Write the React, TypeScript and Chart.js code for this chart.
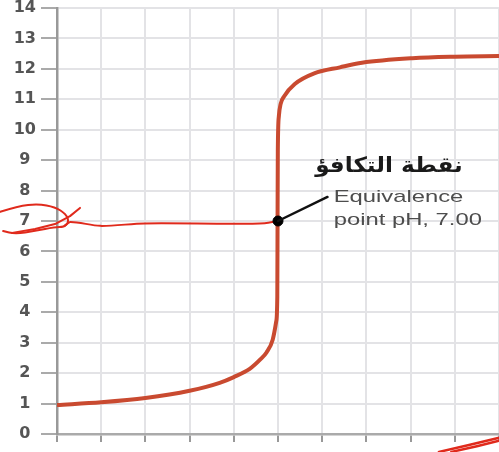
import React, { useEffect, useRef } from "react";
import { Chart, registerables } from "chart.js";

Chart.register(...registerables);

// Titration curve (volume of titrant vs pH)
const volume = [0, 5, 10, 15, 18.4, 20, 21.8, 23, 23.7, 24.4, 24.8, 24.92, 24.95, 24.98, 25.1, 25.3, 25.7, 26.9, 29.1, 32, 34.5, 40.2, 45, 50];
const pH = [0.95, 1.04, 1.18, 1.42, 1.68, 1.87, 2.14, 2.45, 2.68, 3.1, 3.7, 4.5, 7, 9.3, 10.45, 10.85, 11.1, 11.5, 11.85, 12.05, 12.2, 12.35, 12.4, 12.42];

// Equivalence point
const eqX = [25];
const eqY = [7];

// Hand-drawn red marking along pH 7
const handX = [0.8, 1.5, 4.9, 9.9, 19.9, 23.5, 25];
const handY = [6.82, 6.97, 6.84, 6.92, 6.91, 6.93, 7.0];
const loopAX = [-6.43, -4.4, -2.14, -0.23, 1.02, 1.35, 0.79, -0.23, -2.48, -4.74, -6.09];
const loopAY = [7.3, 7.49, 7.56, 7.46, 7.23, 6.97, 6.8, 6.8, 6.67, 6.57, 6.67];
const loopBX = [-5.08, -2.48, -0.23, 1.47, 2.6];
const loopBY = [6.61, 6.74, 6.9, 7.16, 7.43];
const scribAX = [43.2, 46.6, 49.9];
const scribAY = [-0.59, -0.36, -0.13];
const scribBX = [44.6, 47.5, 50];
const scribBY = [-0.59, -0.4, -0.22];

const yTicks = [0, 1, 2, 3, 4, 5, 6, 7, 8, 9, 10, 11, 12, 13, 14];
const labelArabic = "نقطة التكافؤ";
const labelLine1 = "Equivalence";
const labelLine2 = "point pH, 7.00";

const annotPlugin = {
  id: "annot",
  afterDatasetsDraw(chart: any) {
    const { ctx, scales } = chart;
    const xs = scales.x;
    const ys = scales.y;
    const path = (X: number[], Y: number[]) => {
      ctx.beginPath();
      X.forEach((v, i) => {
        const px = xs.getPixelForValue(v);
        const py = ys.getPixelForValue(Y[i]);
        if (i === 0) ctx.moveTo(px, py);
        else ctx.lineTo(px, py);
      });
      ctx.stroke();
    };
    const stretchText = (t: string, x: number, y: number, sx: number) => {
      ctx.save();
      ctx.translate(x, y);
      ctx.scale(sx, 1);
      ctx.fillText(t, 0, 0);
      ctx.restore();
    };
    ctx.save();
    ctx.lineJoin = "round";
    ctx.lineCap = "round";
    // connector from dot to label
    ctx.strokeStyle = "#111";
    ctx.lineWidth = 2.5;
    path([eqX[0], 30.6], [eqY[0], 7.79]);
    // texts
    ctx.textAlign = "left";
    ctx.textBaseline = "alphabetic";
    ctx.fillStyle = "#1a1a1a";
    ctx.font = "bold 21px 'DejaVu Sans'";
    stretchText(labelArabic, xs.getPixelForValue(29.2), ys.getPixelForValue(8.6), 1.1);
    ctx.fillStyle = "#4d4d4d";
    ctx.font = "17px 'Liberation Sans'";
    const tx = xs.getPixelForValue(31.3);
    stretchText(labelLine1, tx, ys.getPixelForValue(7.63), 1.4);
    stretchText(labelLine2, tx, ys.getPixelForValue(6.87), 1.4);
    // red hand drawings
    ctx.strokeStyle = "#e02a1c";
    ctx.lineWidth = 2;
    ctx.beginPath();
    const pts = loopAX.map((v, i) => [xs.getPixelForValue(v), ys.getPixelForValue(loopAY[i])]);
    ctx.moveTo(pts[0][0], pts[0][1]);
    for (let i = 1; i < pts.length - 1; i++) {
      const mx = (pts[i][0] + pts[i + 1][0]) / 2;
      const my = (pts[i][1] + pts[i + 1][1]) / 2;
      ctx.quadraticCurveTo(pts[i][0], pts[i][1], mx, my);
    }
    ctx.lineTo(pts[pts.length - 1][0], pts[pts.length - 1][1]);
    ctx.stroke();
    path(loopBX, loopBY);
    ctx.lineWidth = 2.5;
    path(scribAX, scribAY);
    path(scribBX, scribBY);
    ctx.restore();
  },
};

export default function App() {
  const ref = useRef<HTMLCanvasElement>(null);
  useEffect(() => {
    if (!ref.current) return;
    const chart = new Chart(ref.current, {
      type: "line",
      data: {
        datasets: [
          {
            data: volume.map((v, i) => ({ x: v, y: pH[i] })),
            borderColor: "#c94a30",
            borderWidth: 4,
            pointRadius: 0,
            cubicInterpolationMode: "monotone",
            fill: false,
            order: 2,
          },
          {
            data: handX.map((v, i) => ({ x: v, y: handY[i] })),
            borderColor: "#e02a1c",
            borderWidth: 2,
            pointRadius: 0,
            tension: 0.3,
            fill: false,
            order: 1,
          },
          {
            data: eqX.map((v, i) => ({ x: v, y: eqY[i] })),
            borderColor: "#000",
            backgroundColor: "#000",
            pointRadius: 5,
            showLine: false,
            order: 0,
          },
        ],
      },
      options: {
        animation: false,
        responsive: false,
        maintainAspectRatio: false,
        layout: { autoPadding: false, padding: { top: 8, right: 0, left: 0, bottom: 0 } },
        plugins: { legend: { display: false }, tooltip: { enabled: false } },
        scales: {
          x: {
            type: "linear",
            min: 0,
            max: 50,
            ticks: { stepSize: 5, display: false },
            grid: { color: "#e3e3e6", lineWidth: 2, tickColor: "#999", tickLength: 8 },
            border: { color: "#aaa", width: 2.5 },
            afterFit: (s: any) => {
              s.height = 18;
              s.paddingLeft = 0;
              s.paddingRight = 0;
            },
          },
          y: {
            type: "linear",
            min: 0,
            max: 14,
            afterBuildTicks: (s: any) => {
              s.ticks = yTicks.map((v) => ({ value: v }));
            },
            ticks: {
              color: "#555",
              font: { family: "'DejaVu Sans'", size: 16, weight: "bold" },
              padding: 5,
              crossAlign: "center",
            },
            grid: { color: "#e3e3e6", lineWidth: 2, tickColor: "#aaa", tickLength: 16 },
            border: { color: "#999", width: 2.5 },
            afterFit: (s: any) => {
              s.width = 57;
              s.paddingTop = 0;
              s.paddingBottom = 0;
            },
          },
        },
      },
      plugins: [annotPlugin],
    } as any);
    return () => chart.destroy();
  }, []);
  return (
    <div style={{ position: "fixed", left: 0, top: 0, width: 499, height: 452, background: "#fff" }}>
      <canvas ref={ref} width={499} height={452} style={{ width: 499, height: 452 }} />
    </div>
  );
}
